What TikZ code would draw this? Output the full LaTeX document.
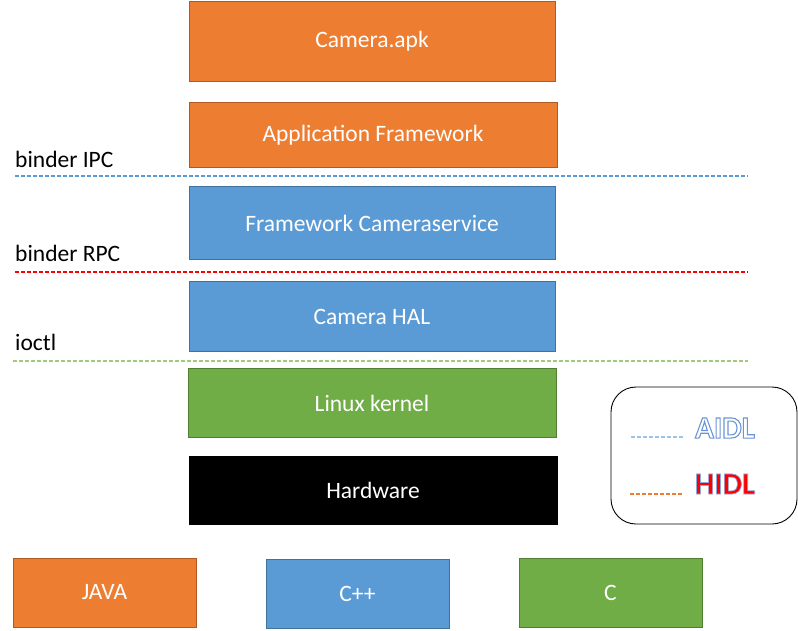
\documentclass[tikz,border=0pt]{standalone}
\usepackage{fontspec}
\setmainfont{Carlito}
\definecolor{orng}{HTML}{ED7D31}
\definecolor{orngd}{HTML}{AE5A21}
\definecolor{blu}{HTML}{5B9BD5}
\definecolor{blud}{HTML}{41719C}
\definecolor{grn}{HTML}{70AD47}
\definecolor{grnd}{HTML}{507E32}
\definecolor{aidl}{HTML}{4472C4}
\definecolor{lblue}{HTML}{9DC3E6}
\definecolor{lgreen}{HTML}{A9D18E}
\tikzset{
  layer/.style={draw=#1d, fill=#1, text=white, font=\fontsize{23.5}{27}\selectfont, inner sep=0pt},
  blk/.style={draw=black, fill=black, text=white, font=\fontsize{23.5}{27}\selectfont, inner sep=0pt},
  lbl/.style={anchor=base west, font=\fontsize{23.5}{27}\selectfont, inner sep=0pt},
  sep/.style={dash pattern=on 3.5pt off 2.5pt, line width=1.1pt}
}
\newcommand{\outlinedtext}[1]{\special{pdf:literal direct 2 Tr 1.1 w 0.42 0.58 0.84 RG 1 1 1 rg}#1\special{pdf:literal direct 0 Tr}}
\newcommand{\redoutlined}[1]{\special{pdf:literal direct 2 Tr 0.7 w 0.55 0.67 0.86 RG 1 0 0 rg}#1\special{pdf:literal direct 0 Tr}}
\begin{document}
\begin{tikzpicture}[x=1pt,y=-1pt]
\useasboundingbox (0,0) rectangle (798,630);
\node[layer=orng, minimum width=366pt, minimum height=80pt] (apk) at (372,41) {Camera.apk};
\node[layer=orng, minimum width=368pt, minimum height=65pt] (af) at (373,135) {Application Framework};
\node[layer=blu, minimum width=366pt, minimum height=73pt] (fcs) at (372,223) {Framework Cameraservice};
\node[layer=blu, minimum width=366pt, minimum height=70pt] (hal) at (372,316.5) {Camera HAL};
\node[layer=grn, minimum width=368pt, minimum height=69pt] (lk) at (372,403) {Linux kernel};
\node[blk, minimum width=368pt, minimum height=68pt] (hw) at (373,490.5) {Hardware};

\node[lbl] (ipc) at (15,167) {binder IPC};
\node[lbl] (rpc) at (15,261) {binder RPC};
\node[lbl] (ioctl) at (15,350) {ioctl};
\coordinate (l1a) at (15,176); \coordinate (l1b) at (748,176);
\coordinate (l2a) at (15,272); \coordinate (l2b) at (748,272);
\coordinate (l3a) at (13,361); \coordinate (l3b) at (748,361);
\draw[sep, draw=blu] (l1a) -- (l1b);
\draw[sep, draw=red] (l2a) -- (l2b);
\draw[sep, draw=lgreen!80!grn] (l3a) -- (l3b);

\node[draw=black, line width=0.9pt, rounded corners=25pt, minimum width=186pt, minimum height=137pt] (leg) at (704,455.5) {};
\coordinate (a1) at (631,437); \coordinate (a2) at (683,437);
\coordinate (h1) at (630,494); \coordinate (h2) at (683,494);
\draw[sep, draw=lblue] (a1) -- (a2);
\draw[sep, draw=orng] (h1) -- (h2);
\node[font=\fontsize{31}{36}\selectfont\bfseries, inner sep=0pt] (aidltxt) at (725,428) {\outlinedtext{AIDL}};
\node[font=\fontsize{31}{36}\selectfont\bfseries, inner sep=0pt] (hidltxt) at (725,484) {\redoutlined{HIDL}};

\node[layer=orng, minimum width=183pt, minimum height=69pt] (java) at (104.5,592.5) {JAVA};
\node[layer=blu, minimum width=183pt, minimum height=69pt] (cpp) at (357.5,593.5) {C++};
\node[layer=grn, minimum width=183pt, minimum height=69pt] (c) at (610.5,592.5) {C};
\end{tikzpicture}
\end{document}
